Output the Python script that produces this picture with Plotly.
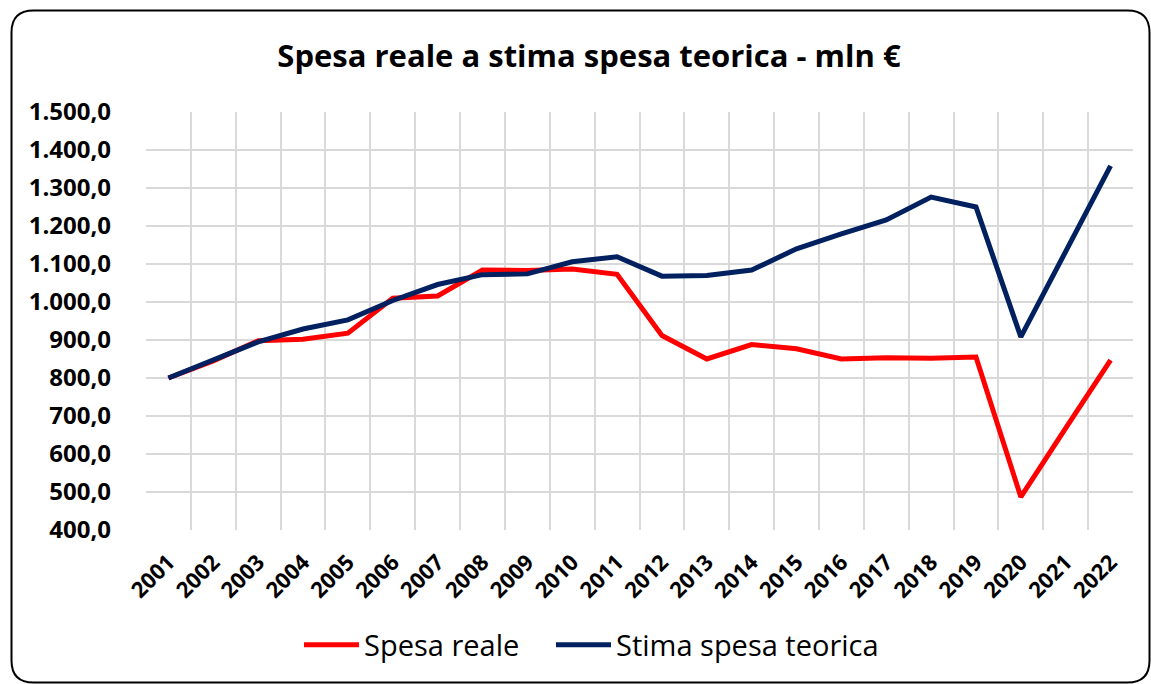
import plotly.graph_objects as go

anni = ["2001", "2002", "2003", "2004", "2005", "2006", "2007", "2008", "2009", "2010", "2011",
        "2012", "2013", "2014", "2015", "2016", "2017", "2018", "2019", "2020", "2021", "2022"]
spesa_reale = [800, 845, 898, 902, 918, 1010, 1016, 1084, 1083, 1087, 1073,
               912, 850, 888, 877, 850, 853, 852, 855, 487, 668, 847]
stima_teorica = [800, 847, 895, 929, 953, 1004, 1046, 1072, 1074, 1106, 1119,
                 1068, 1070, 1084, 1140, 1179, 1216, 1276, 1250, 908, 1133, 1358]
y_ticks = [400, 500, 600, 700, 800, 900, 1000, 1100, 1200, 1300, 1400, 1500]

W, H = 1151, 684
L, R, T, B = 146, 1133, 112, 530

def px(x):
    return (x - L) / (R - L)

def py(y):
    return (B - y) / (B - T)

fig = go.Figure()
fig.add_trace(go.Scatter(x=anni, y=spesa_reale, mode="lines", name="Spesa reale",
                         line=dict(color="#FF0000", width=5), legend="legend"))
fig.add_trace(go.Scatter(x=anni, y=stima_teorica, mode="lines", name="Stima spesa teorica",
                         line=dict(color="#002060", width=5), legend="legend2"))

# rounded chart border
x0, x1, y0, y1, r = 11.5, 1149.5, 10.5, 682.5, 22
path = (f"M {px(x0 + r)},{py(y0)} L {px(x1 - r)},{py(y0)} Q {px(x1)},{py(y0)} {px(x1)},{py(y0 + r)} "
        f"L {px(x1)},{py(y1 - r)} Q {px(x1)},{py(y1)} {px(x1 - r)},{py(y1)} "
        f"L {px(x0 + r)},{py(y1)} Q {px(x0)},{py(y1)} {px(x0)},{py(y1 - r)} "
        f"L {px(x0)},{py(y0 + r)} Q {px(x0)},{py(y0)} {px(x0 + r)},{py(y0)} Z")

legend_common = dict(orientation="h", xref="container", yref="container",
                     xanchor="left", y=1 - 645 / H, yanchor="middle",
                     font=dict(family="Open Sans", size=29, color="black"),
                     itemwidth=55, bgcolor="rgba(0,0,0,0)")

fig.update_layout(
    width=W, height=H,
    margin=dict(l=L, r=W - R, t=T, b=H - B, autoexpand=False),
    paper_bgcolor="white", plot_bgcolor="white",
    separators=",.",
    title=dict(text="<b>Spesa reale a stima spesa teorica - mln €</b>",
               x=589 / W, xref="container", xanchor="center",
               y=1 - 56 / H, yref="container", yanchor="middle",
               font=dict(family="Open Sans", size=31, color="black")),
    xaxis=dict(type="category", range=[-0.5, len(anni) - 0.5], tickson="boundaries",
               showgrid=True, gridcolor="#D9D9D9", gridwidth=2,
               showline=False, zeroline=False, ticks="", tickangle=-45,
               ticklabelstandoff=14, automargin=False,
               tickfont=dict(family="Open Sans", size=22, color="black", weight="bold")),
    yaxis=dict(range=[400, 1500], tickvals=y_ticks, tickformat=",.1f",
               showgrid=True, gridcolor="#D9D9D9", gridwidth=2,
               showline=False, zeroline=False, ticks="",
               ticklabelstandoff=34, automargin=False,
               tickfont=dict(family="Open Sans", size=24, color="black", weight="bold")),
    showlegend=True,
    legend=dict(x=299 / W, **legend_common),
    legend2=dict(x=551 / W, **legend_common),
    shapes=[dict(type="path", path=path, xref="paper", yref="paper",
                 line=dict(color="black", width=2), layer="above")],
)

fig.write_html("out.html", config={"displayModeBar": False},
               post_script="document.body.style.margin='0';")
